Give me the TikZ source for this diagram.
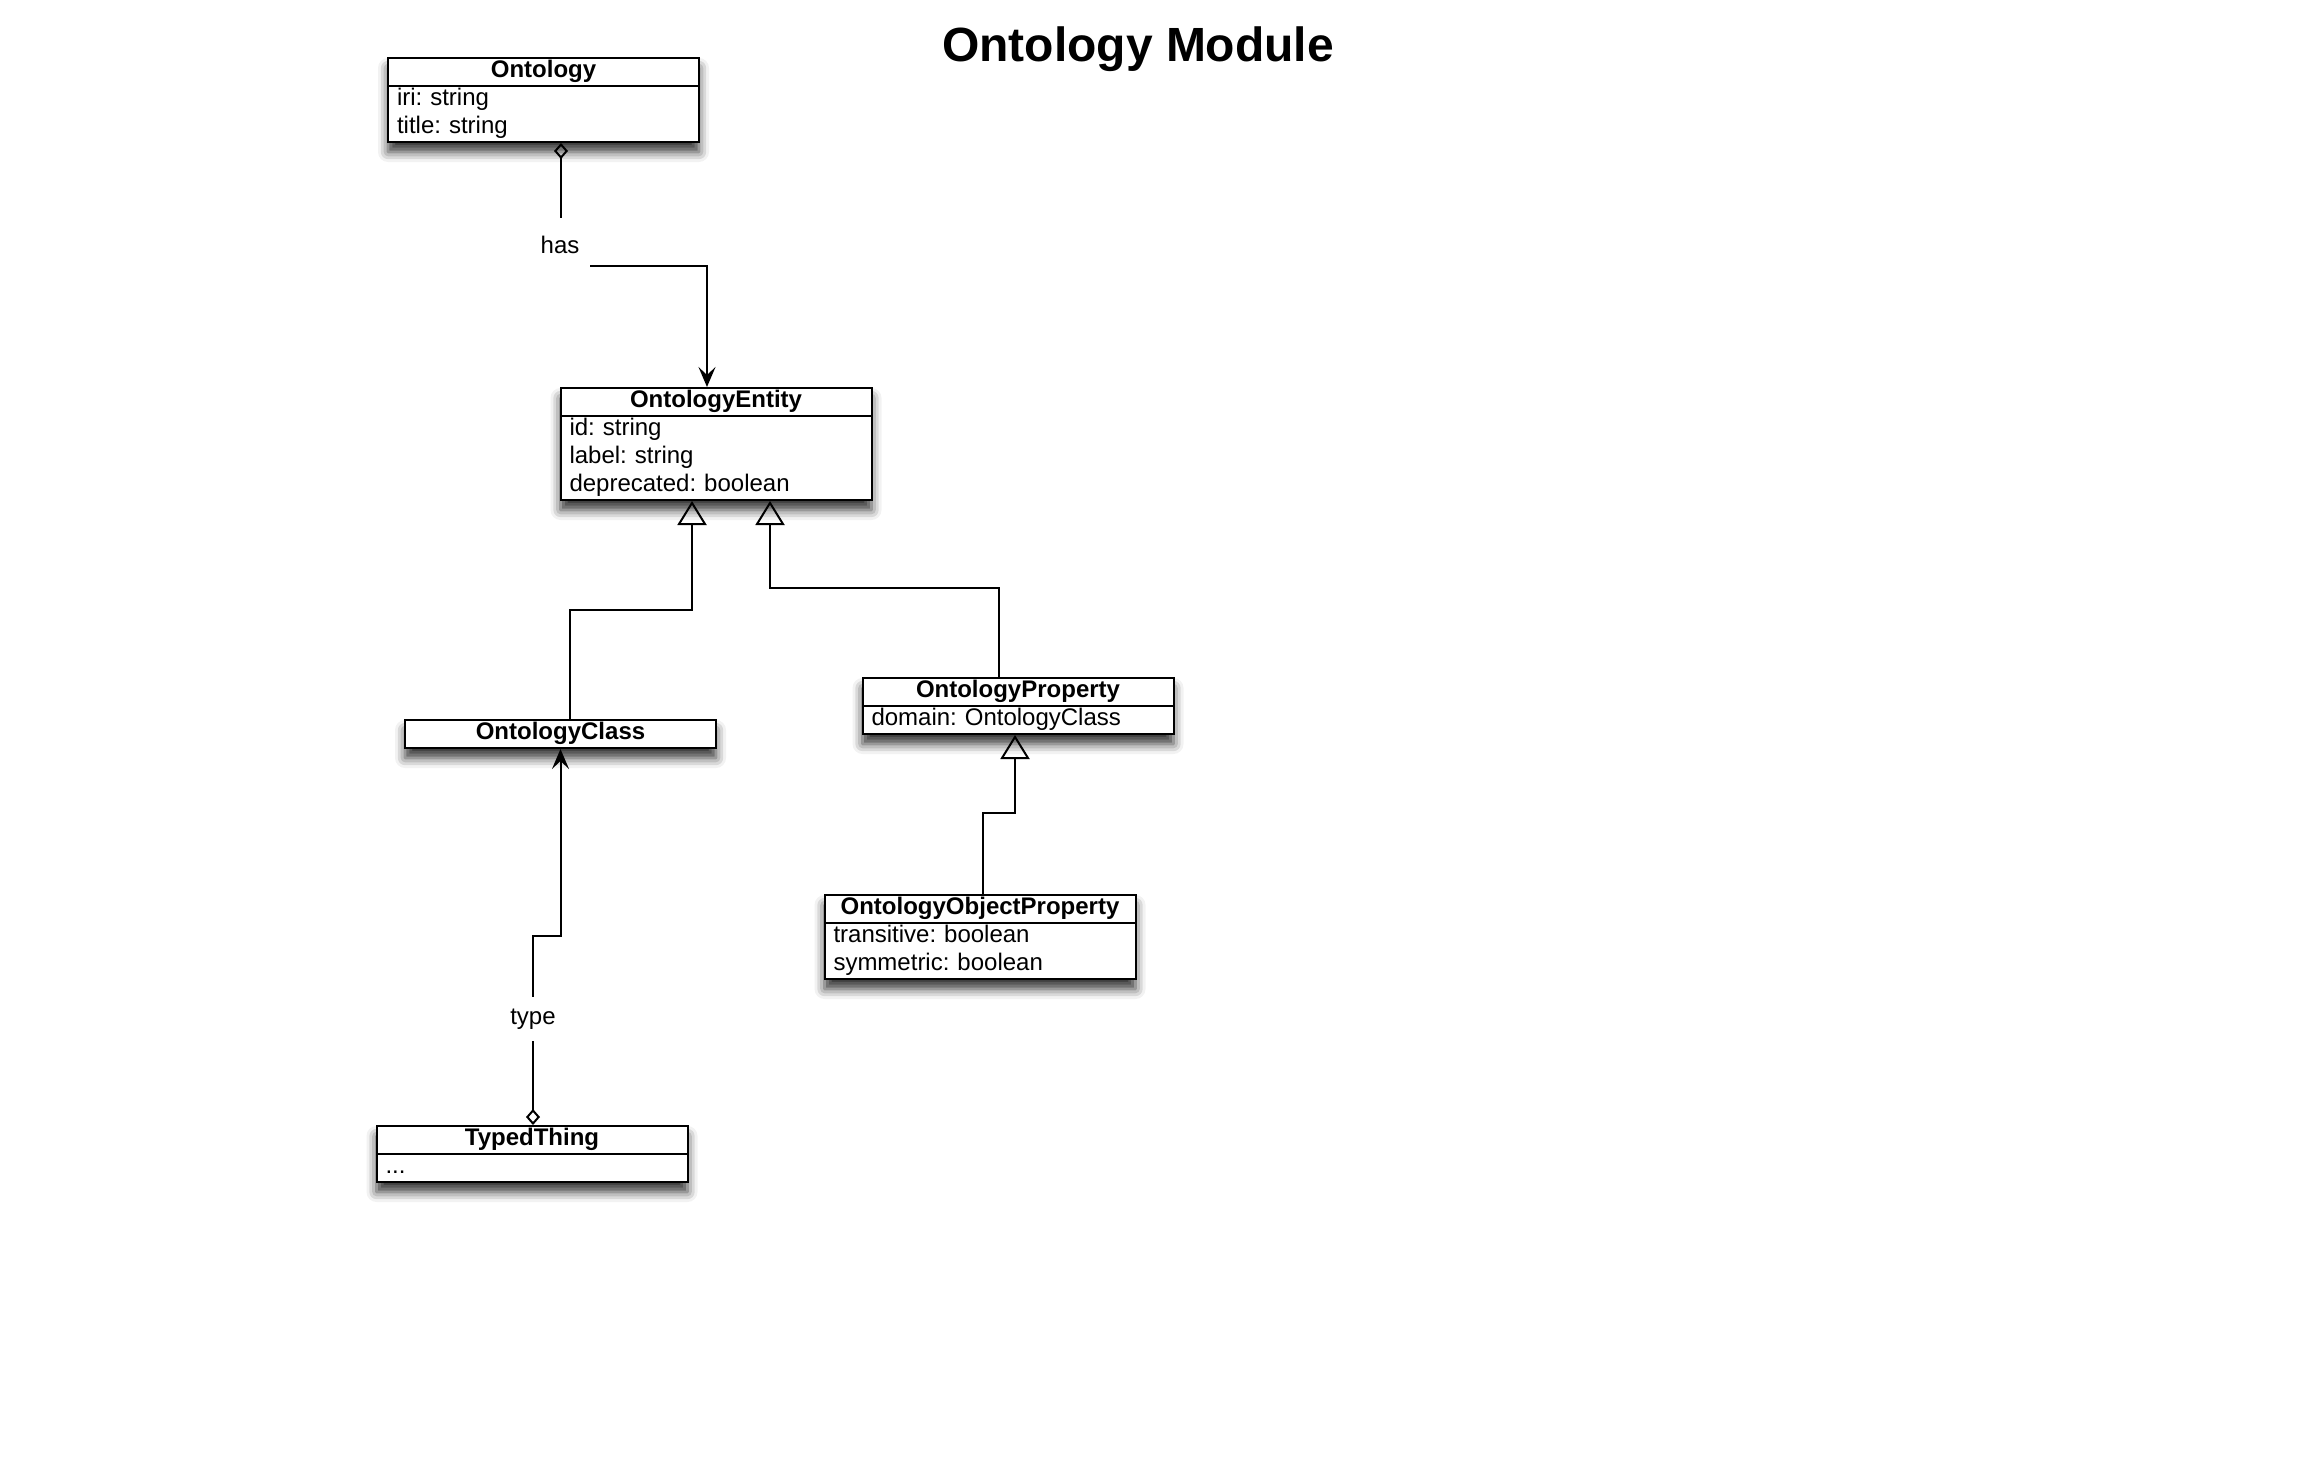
\documentclass[tikz,border=0pt]{standalone}
\usepackage{fontspec}
\setmainfont{Liberation Sans}
\usepackage{tikz}
\usetikzlibrary{arrows.meta}
\usetikzlibrary{shapes.multipart}
\usetikzlibrary{shadows.blur}

\begin{document}
\begin{tikzpicture}[x=0.5pt,y=-0.5pt,
  umlbox/.style={draw,line width=1pt,fill=white,anchor=north,
    rectangle split,rectangle split parts=2,
    text width=146.5pt,inner xsep=4.5pt,inner ysep=-0.5pt,align=left,
    blur shadow={shadow xshift=0pt,shadow yshift=-5pt,shadow blur radius=5pt,shadow opacity=80}},
  assoc/.style={line width=1pt,{Diamond[open,length=8pt,width=7pt]}-{Stealth[length=10pt,width=8.5pt,inset=4pt]}},
  gen/.style={line width=1pt,-{Triangle[open,length=12pt,width=14.5pt]}},
  rolelbl/.style={fill=white,inner sep=0pt,minimum width=30pt,minimum height=22pt}]
\fontsize{12}{14}\selectfont\frenchspacing
  \useasboundingbox (0,0) rectangle (2304,1466);

  \node[font=\fontsize{24}{28}\selectfont\bfseries] (title) at (1138,49) {Ontology Module};

  \node[umlbox] (onto) at (543.5,57) {\hfill\textbf{\strut Ontology}\hfill\null\nodepart{two}\strut iri: string\\\strut title: string};
  \node[umlbox] (ent) at (716,387) {\hfill\textbf{\strut OntologyEntity}\hfill\null\nodepart{two}\strut id: string\\\strut label: string\\\strut deprecated: boolean};
  \node[umlbox,rectangle split parts=1] (cls) at (560.5,719) {\hfill\textbf{\strut OntologyClass}\hfill\null};
  \node[umlbox] (prop) at (1018,677) {\hfill\textbf{\strut OntologyProperty}\hfill\null\nodepart{two}\strut domain: OntologyClass};
  \node[umlbox] (oop) at (980,894) {\hfill\textbf{\strut OntologyObjectProperty}\hfill\null\nodepart{two}\strut transitive: boolean\\\strut symmetric: boolean};
  \node[umlbox] (typed) at (532,1125) {\hfill\textbf{\strut TypedThing}\hfill\null\nodepart{two}\strut ...};

  \draw[assoc] ([xshift=8.75pt]onto.south) -- ++(0,123) -| ([xshift=-4.5pt]ent.north);
  \draw[gen] ([xshift=4.75pt]cls.north) -- ++(0,-109) -| ([xshift=-12pt]ent.south);
  \draw[gen] ([xshift=-9.5pt]prop.north) -- ++(0,-89) -| ([xshift=27pt]ent.south);
  \draw[gen] ([xshift=1.5pt]oop.north) -- ++(0,-81) -| ([xshift=-1.5pt]prop.south);
  \draw[assoc] ([xshift=0.5pt]typed.north) -- ++(0,-189) -| (cls.south);

  \node[rolelbl,minimum height=27pt] (has) at (560,245) {has};
  \node[rolelbl] (type) at (533,1019) {type};
\end{tikzpicture}
\end{document}
